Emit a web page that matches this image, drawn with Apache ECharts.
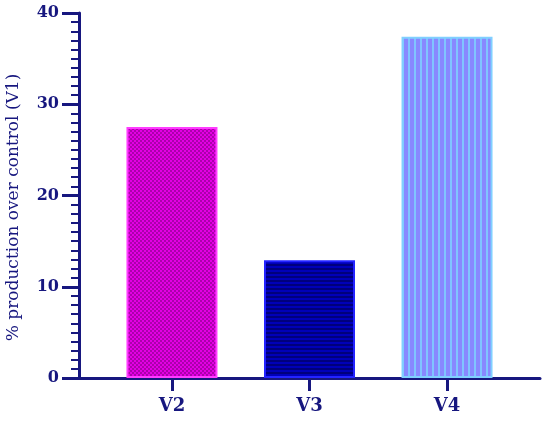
<!DOCTYPE html>
<html>
<head>
<meta charset="utf-8">
<script src="https://cdn.jsdelivr.net/npm/echarts@6/dist/echarts.min.js"></script>
<style>
  html, body { margin: 0; padding: 0; background: #fff; }
  #chart01 { width: 550px; height: 422px; }
</style>
</head>
<body>
<div id="chart01"></div>
<script>
var categories = ['V2', 'V3', 'V4'];
var positions = [1, 2, 3];
var values = [27.5, 12.9, 37.4];
var yTicks = [0, 10, 20, 30, 40];

var navy = '#17177f';

function makePattern(w, h, bg, fg, draw) {
  var c = document.createElement('canvas');
  c.width = w;
  c.height = h;
  var ctx = c.getContext('2d');
  ctx.fillStyle = bg;
  ctx.fillRect(0, 0, w, h);
  ctx.fillStyle = fg;
  draw(ctx);
  return { image: c, repeat: 'repeat' };
}

var checker = makePattern(4, 4, '#e400e4', '#ac00ac', function (ctx) {
  ctx.fillRect(0, 0, 2, 2);
  ctx.fillRect(2, 2, 2, 2);
});
var hlines = makePattern(4, 4, '#0000b8', '#00007c', function (ctx) {
  ctx.fillRect(0, 0, 4, 2);
});
var vlines = makePattern(6, 6, '#8888ff', '#80c4ff', function (ctx) {
  ctx.fillRect(0, 0, 2, 6);
});

var styles = [
  { color: checker, borderColor: '#ff3cff', borderWidth: 2 },
  { color: hlines, borderColor: '#2424ff', borderWidth: 2 },
  { color: vlines, borderColor: '#80d0ff', borderWidth: 2 }
];

var chartDom = document.getElementById('chart01');
var myChart = echarts.init(chartDom);
var option;

option = {
  animation: false,
  grid: { left: 79, right: 10, top: 13, bottom: 44, containLabel: false, outerBoundsMode: 'none' },
  xAxis: {
    type: 'value',
    min: 0.324,
    max: 3.676,
    splitLine: { show: false },
    axisLine: { show: true, lineStyle: { color: navy, width: 3 } },
    axisTick: {
      show: true,
      customValues: positions,
      length: 13,
      lineStyle: { color: navy, width: 3 }
    },
    axisLabel: {
      customValues: positions,
      margin: 19,
      color: navy,
      fontFamily: 'DejaVu Serif',
      fontWeight: 'bold',
      fontSize: 18,
      formatter: function (v) {
        return categories[positions.indexOf(Math.round(v))] || '';
      }
    }
  },
  yAxis: {
    type: 'value',
    min: yTicks[0],
    max: yTicks[yTicks.length - 1],
    interval: 10,
    name: '% production over control (V1)',
    nameLocation: 'middle',
    nameGap: 57,
    nameTextStyle: { color: navy, fontFamily: 'DejaVu Serif', fontSize: 17, padding: [0, 24, 0, 0] },
    splitLine: { show: false },
    axisLine: { show: true, lineStyle: { color: navy, width: 3 } },
    axisTick: { show: true, length: 17, lineStyle: { color: navy, width: 3 } },
    minorTick: { show: true, splitNumber: 10, length: 8, lineStyle: { color: navy, width: 2 } },
    axisLabel: {
      margin: 20,
      color: navy,
      fontFamily: 'DejaVu Serif',
      fontWeight: 'bold',
      fontSize: 16
    }
  },
  series: [
    {
      type: 'bar',
      barWidth: 91,
      data: positions.map(function (p, i) {
        return { value: [p, values[i]], itemStyle: styles[i] };
      })
    }
  ]
};

option && myChart.setOption(option);
</script>
</body>
</html>
